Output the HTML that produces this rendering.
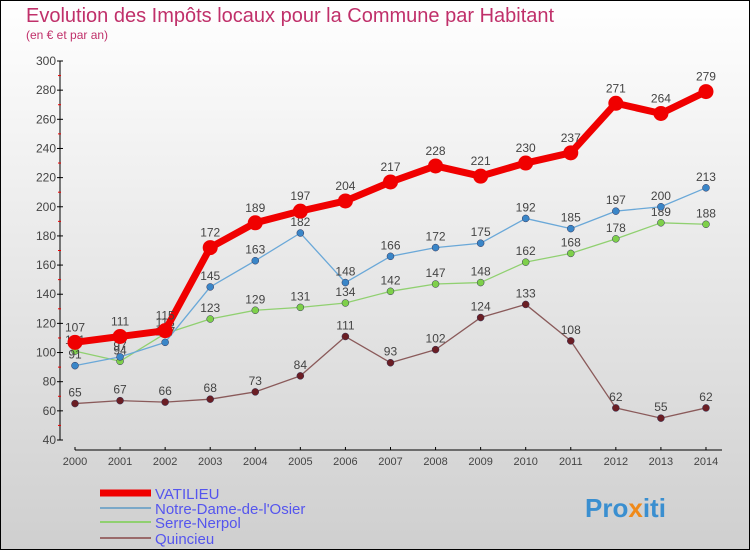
<!DOCTYPE html>
<html><head><meta charset="utf-8"><style>
body{margin:0;width:750px;height:550px;overflow:hidden;font-family:"Liberation Sans",sans-serif}
svg{display:block}
</style></head><body>
<svg id="chart" width="750" height="550" xmlns="http://www.w3.org/2000/svg">
<defs><linearGradient id="bg" x1="0" y1="0" x2="0" y2="1"><stop offset="0" stop-color="#ffffff"/><stop offset="1" stop-color="#cfcfcf"/></linearGradient></defs>
<rect x="0.5" y="0.5" width="749" height="549" fill="url(#bg)" stroke="#000"/>
<text x="26" y="22" font-size="20" fill="#c0306a">Evolution des Impôts locaux pour la Commune par Habitant</text>
<text x="26" y="39" font-size="12" fill="#c0306a">(en € et par an)</text>
<g id="axes"></g><g id="series"></g><g id="legend"></g>
<text x="585" y="517" font-size="26" font-weight="bold" fill="#3a8fd0">Pro<tspan fill="#f08a1a">x</tspan>iti</text>
</svg>
<script>
const years=[2000,2001,2002,2003,2004,2005,2006,2007,2008,2009,2010,2011,2012,2013,2014];
const yTicks=[40,60,80,100,120,140,160,180,200,220,240,260,280,300];
const vatilieu=[107,111,115,172,189,197,204,217,228,221,230,237,271,264,279];
const notreDame=[91,97,107,145,163,182,148,166,172,175,192,185,197,200,213];
const serreNerpol=[101,94,113,123,129,131,134,142,147,148,162,168,178,189,188];
const quincieu=[65,67,66,68,73,84,111,93,102,124,133,108,62,55,62];
const names=["VATILIEU","Notre-Dame-de-l'Osier","Serre-Nerpol","Quincieu"];
const NS="http://www.w3.org/2000/svg";
const X=i=>75+i*45.07, Y=v=>440-(v-40)*(379/260);
function mk(t,a,p){const e=document.createElementNS(NS,t);for(const k in a)e.setAttribute(k,a[k]);p.appendChild(e);return e;}
const ax=document.getElementById('axes');
let l=mk('line',{x1:60,y1:Y(300),x2:60,y2:440,stroke:'#000'},ax);


l=mk('line',{x1:75,y1:450,x2:722,y2:450,stroke:'#000'},ax);


yTicks.forEach(v=>{
 mk('line',{x1:57,x2:63,y1:Y(v),y2:Y(v),stroke:'#000'},ax);
 if(v<300) mk('line',{x1:58,x2:61,y1:Y(v+10),y2:Y(v+10),stroke:'#e00'},ax);
 const t=mk('text',{x:56,y:Y(v)+4,'text-anchor':'end','font-size':12,fill:'#444'},ax);t.textContent=v;
 
 
});
years.forEach((y,i)=>{
 mk('line',{x1:X(i),x2:X(i),y1:447,y2:450,stroke:'#000'},ax);
 const t=mk('text',{x:X(i),y:465,'text-anchor':'middle','font-size':11,fill:'#444'},ax);t.textContent=y;
 
 
});
const sg=document.getElementById('series');
const defs=[[quincieu,'#6b1e24','#8a5a5a',1.3,3.5],[serreNerpol,'#7ed04a','#90d070',1.3,3.5],[notreDame,'#3a86c8','#6aa8d8',1.3,3.5],[vatilieu,'#f00000','#f00000',7,7.5]];
defs.forEach(([d,dot,lc,w,r],si)=>{
 const g=mk('g',{},sg);
 
 
 mk('polyline',{points:d.map((v,i)=>X(i)+','+Y(v)).join(' '),fill:'none',stroke:lc,'stroke-width':w,'stroke-linejoin':'round'},g);
 d.forEach((v,i)=>{
  const c=mk('circle',{cx:X(i),cy:Y(v),r:r,fill:dot,stroke:si==3?'none':'#335','stroke-width':0.5},g);
  
  
  const t=mk('text',{x:X(i),y:Y(v)-(si==3?11:7),'text-anchor':'middle','font-size':12,fill:'#444'},g);t.textContent=v;
  
  
 });
});
const lg=document.getElementById('legend');
const lcol=['#f00000','#7aa8c8','#90d070','#9a6a6a'],lw=[7,2,2,2],ly=[493,508,522,538];
names.forEach((n,i)=>{
 const g=mk('g',{},lg);
 
 
 mk('line',{x1:100,x2:151,y1:ly[i],y2:ly[i],stroke:lcol[i],'stroke-width':lw[i]},g);
 const t=mk('text',{x:155,y:ly[i]+6,'font-size':15,fill:'#5555ee'},g);t.textContent=n;
});
</script>
</body></html>
